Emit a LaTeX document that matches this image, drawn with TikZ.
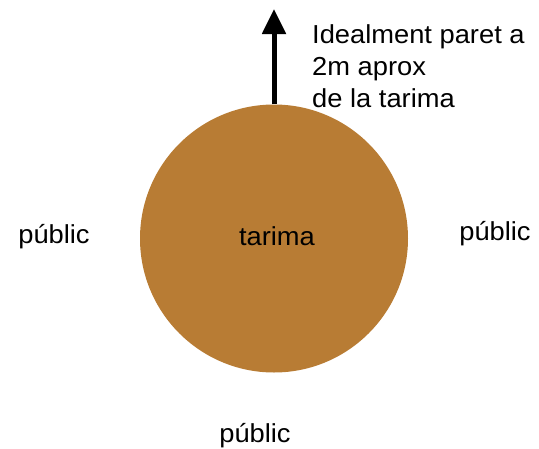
\documentclass[tikz,border=0pt]{standalone}
\usepackage{fontspec}
\setmainfont{Liberation Sans}[FakeStretch=1.05]
\usetikzlibrary{arrows.meta}
\definecolor{tarimabrown}{RGB}{184,124,52}
\begin{document}
\begin{tikzpicture}[x=1pt,y=-1pt,
  lbl/.style={font=\fontsize{26}{32}\selectfont, inner sep=0pt},
  arr/.style={line width=5pt, -{Triangle[length=25pt,width=23pt]}}]
\useasboundingbox (0,0) rectangle (539,448);
\node[circle, fill=tarimabrown, minimum size=268pt, inner sep=0pt] (tarima) at (274,238.5) {};
\node[lbl, anchor=base] (tlbl) at (277,245.5) {tarima};
\coordinate (tip) at (274,9);
\draw[arr] (tarima.north) -- (tip);
\node[lbl, anchor=base west] (l1) at (312,43) {Idealment paret a};
\node[lbl, anchor=base west] (l2) at (312,75) {2m aprox};
\node[lbl, anchor=base west] (l3) at (312,107) {de la tarima};
\node[lbl, anchor=base] (pl) at (54,243) {públic};
\node[lbl, anchor=base] (pr) at (495,240) {públic};
\node[lbl, anchor=base] (pb) at (255,442.5) {públic};
\end{tikzpicture}
\end{document}
